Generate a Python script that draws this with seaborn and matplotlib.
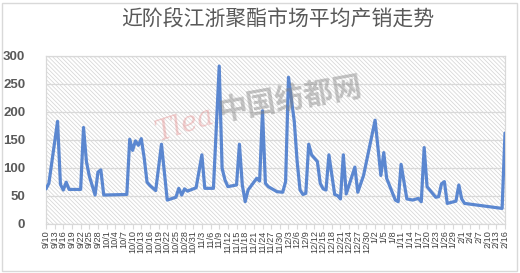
import matplotlib
matplotlib.use("Agg")
import matplotlib.pyplot as plt
import seaborn as sns
import pandas as pd
from matplotlib.patches import Rectangle

# Average production/sales ratio (%) of polyester in Jiangsu & Zhejiang
dates = [
    "2018-09-10", "2018-09-11", "2018-09-14", "2018-09-15", "2018-09-16", "2018-09-17",
    "2018-09-18", "2018-09-22", "2018-09-23", "2018-09-24", "2018-09-25", "2018-09-27",
    "2018-09-28", "2018-09-29", "2018-09-30", "2018-10-08", "2018-10-09", "2018-10-10",
    "2018-10-11", "2018-10-12", "2018-10-13", "2018-10-14", "2018-10-15", "2018-10-16",
    "2018-10-18", "2018-10-20", "2018-10-22", "2018-10-25", "2018-10-26", "2018-10-27",
    "2018-10-28", "2018-10-29", "2018-10-30", "2018-11-01", "2018-11-03", "2018-11-04",
    "2018-11-07", "2018-11-09", "2018-11-10", "2018-11-11", "2018-11-12", "2018-11-14",
    "2018-11-15", "2018-11-16", "2018-11-17", "2018-11-18", "2018-11-19", "2018-11-22",
    "2018-11-23", "2018-11-24", "2018-11-25", "2018-11-26", "2018-11-29", "2018-12-01",
    "2018-12-02", "2018-12-03", "2018-12-05", "2018-12-06", "2018-12-07", "2018-12-08",
    "2018-12-09", "2018-12-10", "2018-12-11", "2018-12-13", "2018-12-14", "2018-12-15",
    "2018-12-16", "2018-12-17", "2018-12-19", "2018-12-20", "2018-12-21", "2018-12-22",
    "2018-12-23", "2018-12-26", "2018-12-27", "2018-12-29", "2019-01-02", "2019-01-04",
    "2019-01-05", "2019-01-06", "2019-01-09", "2019-01-10", "2019-01-11", "2019-01-13",
    "2019-01-15", "2019-01-17", "2019-01-18", "2019-01-19", "2019-01-20", "2019-01-23",
    "2019-01-24", "2019-01-25", "2019-01-26", "2019-01-27", "2019-01-30", "2019-01-31",
    "2019-02-01", "2019-02-02", "2019-02-15", "2019-02-16",
]
ratio = [
    62, 72, 183, 70, 60, 74,
    61, 61, 172, 111, 85, 51,
    92, 96, 51, 52, 151, 131,
    148, 140, 152, 118, 74, 68,
    59, 142, 42, 47, 63, 51,
    62, 58, 60, 64, 123, 63,
    63, 282, 99, 78, 66, 68,
    69, 142, 69, 39, 60, 81,
    76, 202, 72, 66, 57, 56,
    75, 262, 183, 111, 60, 52,
    54, 142, 123, 111, 72, 62,
    60, 123, 52, 50, 44, 123,
    53, 101, 56, 86, 185, 86,
    127, 81, 42, 39, 106, 44,
    42, 45, 39, 136, 66, 47,
    48, 71, 75, 36, 40, 69,
    44, 36, 27, 162,
]
y_ticks = [0, 50, 100, 150, 200, 250, 300]
title = "近阶段江浙聚酯市场平均产销走势"

df = pd.DataFrame({"date": pd.to_datetime(dates), "ratio": ratio})
start, end = df["date"].min(), df["date"].max()
tick_dates = pd.date_range(start, end, freq="3D")
tick_labels = [f"{d.month}/{d.day}" for d in tick_dates]

sns.set_theme(style="white")
plt.rcParams["font.family"] = ["Noto Sans CJK SC", "DejaVu Sans"]
plt.rcParams["hatch.linewidth"] = 0.55
plt.rcParams["hatch.color"] = "#d6d6d6"

W, H = 520, 273
fig = plt.figure(figsize=(W / 100, H / 100), dpi=100)
fig.patch.set_facecolor("white")
ax = fig.add_axes([46 / W, 1 - 223.5 / H, (505 - 46) / W, (223.5 - 56) / H])

# chart frame
fig.patches.append(Rectangle((1.5 / W, 2.5 / H), 515 / W, 268 / H, transform=fig.transFigure,
                             fill=False, edgecolor="#d9d9d9", lw=1))

# hatched plot area
ax.add_patch(Rectangle((0, 0), 1, 1, transform=ax.transAxes, facecolor="white",
                       edgecolor="#d6d6d6", hatch="\\" * 8, lw=0, zorder=0))
ax.set_axisbelow(True)
ax.yaxis.grid(True, color="#d9d9d9", lw=0.9)

sns.lineplot(data=df, x="date", y="ratio", ax=ax, color="#5b87d0", lw=2.3, zorder=3)

ax.set_xlim(start, end)
ax.set_ylim(0, 300)
ax.set_yticks(y_ticks)
ax.set_xticks(tick_dates)
ax.set_xticklabels(tick_labels, rotation=90, fontsize=6.6, color="#404040",
                   family=["Liberation Sans"])
ax.set_xlabel("")
ax.set_ylabel("")
ax.tick_params(axis="x", bottom=True, length=3.5, width=0.8, color="#d9d9d9", pad=1.5)
ax.tick_params(axis="y", left=False, pad=9, labelsize=9.5, labelcolor="#595959")
for lbl in ax.get_yticklabels():
    lbl.set_fontweight("bold")
    lbl.set_family(["Liberation Sans"])
for s in ax.spines.values():
    s.set_color("#d9d9d9")
    s.set_linewidth(0.9)

fig.text(278 / W, 1 - 20 / H, title, ha="center", va="center", fontsize=15,
         fontweight="medium", color="#595959")

# site watermark
fig.text(290 / W, 1 - 98 / H, "中国纺都网", ha="center", va="center", fontsize=21,
         fontweight="bold", color="#808080", alpha=0.45, rotation=10, zorder=5)
fig.text(185 / W, 1 - 125 / H, "Tlea", ha="center", va="center", fontsize=20,
         style="italic", color="#e07070", alpha=0.35, rotation=18, family=["DejaVu Serif"], zorder=5)

fig.savefig("out.png", dpi=100)
